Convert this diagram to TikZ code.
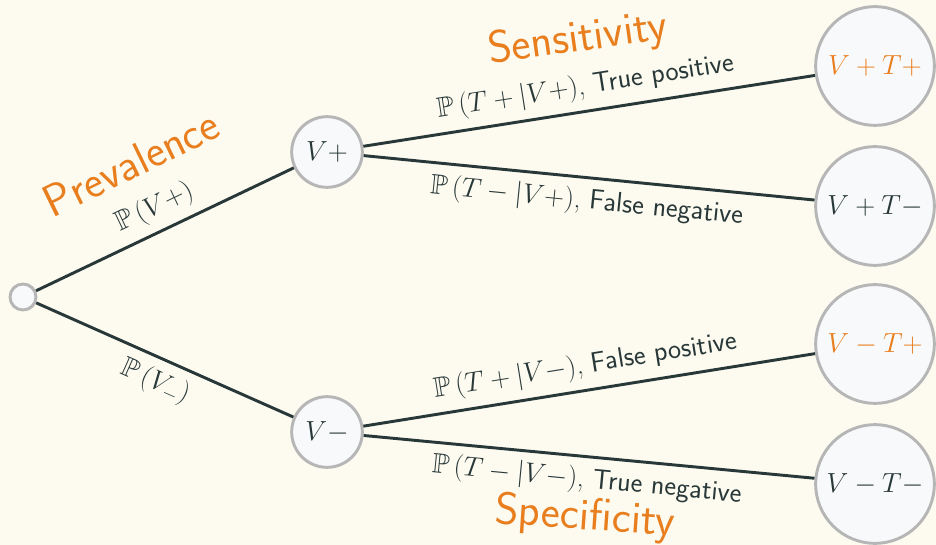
\documentclass[tikz,border=0pt]{standalone}
\usepackage{amsmath,amsfonts,amssymb}
\usepackage{tikz}
\usepackage{xcolor}

\definecolor{bgcream}{RGB}{253,251,240}
\definecolor{nodefill}{RGB}{248,249,250}
\definecolor{nodeborder}{RGB}{182,182,182}
\definecolor{branchdark}{RGB}{40,56,56}
\definecolor{accent}{RGB}{232,126,30}

\begin{document}
\begin{tikzpicture}[
  x=0.75pt, y=-0.75pt,
  every node/.style={text=branchdark},
  state/.style={circle, draw=nodeborder, line width=2.2pt, fill=nodefill,
                inner sep=0pt},
  rootstate/.style={state, minimum size=19.5pt},
  midstate/.style={state, minimum size=53pt, font=\fontsize{20}{24}\selectfont},
  leafstate/.style={state, minimum size=89pt, font=\fontsize{20}{24}\selectfont},
  branch/.style={draw=branchdark, line width=2.2pt},
  prob/.style={sloped, pos=0.5, inner sep=0pt, font=\fontsize{21}{24}\selectfont},
  headline/.style={text=accent, font=\fontsize{34}{40}\sffamily}
]
\fill[bgcream] (0,0) rectangle (936,545);
\useasboundingbox (0,0) rectangle (936,545);

% tree
\node[rootstate]  (root) at (23,297)  {};
\node[midstate]   (vp)   at (327,152) {$V+$};
\node[midstate]   (vm)   at (327,432) {$V-$};
\node[leafstate]  (vptp) at (875,66)  {\color{accent}$V+T+$};
\node[leafstate]  (vptm) at (875,206) {$V+T-$};
\node[leafstate]  (vmtp) at (875,344) {\color{accent}$V-T+$};
\node[leafstate]  (vmtm) at (875,484) {$V-T-$};

\draw[branch] (root) -- node[prob, above=6.5pt] (pvp) {$\mathbb{P}\left(V+\right)$} (vp);
\draw[branch] (root) -- node[prob, below=6.5pt] (pvm) {$\mathbb{P}\left(V_-\right)$} (vm);
\draw[branch] (vp) -- node[prob, above=6.5pt] (ptp)
  {$\mathbb{P}\left(T+|V+\right)$, \sffamily True positive} (vptp);
\draw[branch] (vp) -- node[prob, below=6.5pt] (pfn)
  {$\mathbb{P}\left(T-|V+\right)$, \sffamily False negative} (vptm);
\draw[branch] (vm) -- node[prob, above=6.5pt] (pfp)
  {$\mathbb{P}\left(T+|V-\right)$, \sffamily False positive} (vmtp);
\draw[branch] (vm) -- node[prob, below=6.5pt] (ptn)
  {$\mathbb{P}\left(T-|V-\right)$, \sffamily True negative} (vmtm);

% orange headings
\node[headline, rotate=26]   (prev) at (131,163) {Prevalence};
\node[headline, rotate=8]    (sens) at (578,40)  {Sensitivity};
\node[headline, rotate=-4]   (spec) at (585,518) {Specificity};
\end{tikzpicture}
\end{document}
